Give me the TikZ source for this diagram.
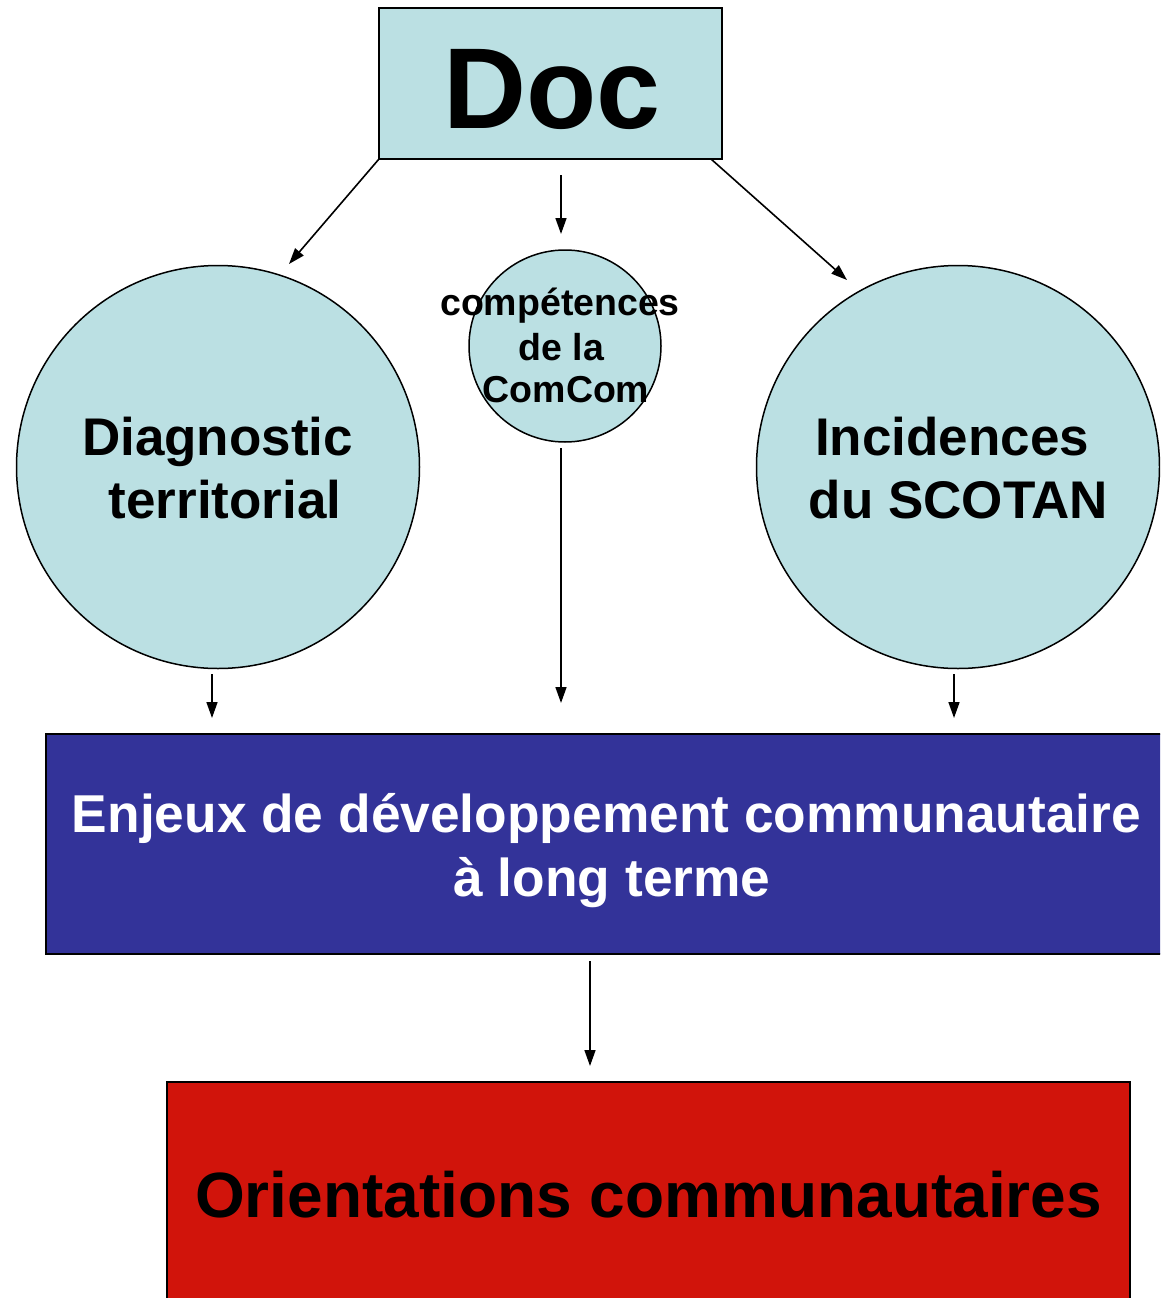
\documentclass[tikz,border=0pt]{standalone}
\usepackage{fontspec}
\setmainfont{Liberation Sans}
\usetikzlibrary{arrows.meta}
\definecolor{pale}{HTML}{BBE0E3}
\definecolor{deepblue}{HTML}{333399}
\definecolor{deepred}{RGB}{209,20,11}
\tikzset{
  boxshape/.style={draw=black, line width=2pt, rectangle, inner sep=0pt},
  roundshape/.style={draw=black, line width=1.5pt, circle, inner sep=0pt, fill=pale},
  txt/.style={anchor=base, inner sep=0pt, font=\bfseries},
  conn/.style={line width=1.6pt, -{Triangle[length=16pt,width=11pt]}},
}
\newcommand{\fs}[1]{\fontsize{#1}{#1}\selectfont}
\begin{document}
\begin{tikzpicture}[x=1pt,y=-1pt]
\useasboundingbox (0,0) rectangle (1160,1298);
\clip (0,0) rectangle (1160,1298);
% shapes
\node[boxshape, fill=pale, minimum width=343pt, minimum height=151pt] (doc) at (550.5,83.5) {};
\node[roundshape, minimum size=403pt] (diag) at (218,467) {};
\node[roundshape, minimum size=192pt] (comp) at (565,346) {};
\node[roundshape, minimum size=403pt] (inci) at (958,467) {};
\node[boxshape, fill=deepblue, minimum width=1124pt, minimum height=220pt] (enj) at (608,844) {};
\node[boxshape, fill=deepred, minimum width=963pt, minimum height=240pt] (ori) at (648.5,1202) {};
% texts
\node[txt, font=\bfseries\fs{115}] (tdoc) at (552,128) {Doc};
\node[txt, font=\bfseries\fs{37.5}] (tc1) at (560,315) {compétences};
\node[txt, font=\bfseries\fs{37.5}] (tc2) at (561.5,360) {de la};
\node[txt, font=\bfseries\fs{37.5}] (tc3) at (566,402) {ComCom};
\node[txt, font=\bfseries\fs{53}] (td1) at (217.5,455) {Diagnostic};
\node[txt, font=\bfseries\fs{53}] (td2) at (225,518) {territorial};
\node[txt, font=\bfseries\fs{53}] (ti1) at (952,455) {Incidences};
\node[txt, font=\bfseries\fs{53}] (ti2) at (958.5,518) {du SCOTAN};
\node[txt, font=\bfseries\fs{53.3}, text=white] (te1) at (606.5,832) {Enjeux de développement communautaire};
\node[txt, font=\bfseries\fs{53.3}, text=white] (te2) at (612,896) {à long terme};
\node[txt, font=\bfseries\fs{64}] (to1) at (648.5,1217) {Orientations communautaires};
% connector end points
\coordinate (a1s) at (379,159);  \coordinate (a1e) at (289,264);
\coordinate (a2s) at (561,175);  \coordinate (a2e) at (561,234);
\coordinate (a3s) at (711,159);  \coordinate (a3e) at (847,280);
\coordinate (a4s) at (212,674);  \coordinate (a4e) at (212,718);
\coordinate (a5s) at (561,448);  \coordinate (a5e) at (561,703);
\coordinate (a6s) at (954,674);  \coordinate (a6e) at (954,718);
\coordinate (a7s) at (590,961);  \coordinate (a7e) at (590,1066);
\draw[conn] (a1s) -- (a1e);
\draw[conn] (a2s) -- (a2e);
\draw[conn] (a3s) -- (a3e);
\draw[conn] (a4s) -- (a4e);
\draw[conn] (a5s) -- (a5e);
\draw[conn] (a6s) -- (a6e);
\draw[conn] (a7s) -- (a7e);
\end{tikzpicture}
\end{document}
